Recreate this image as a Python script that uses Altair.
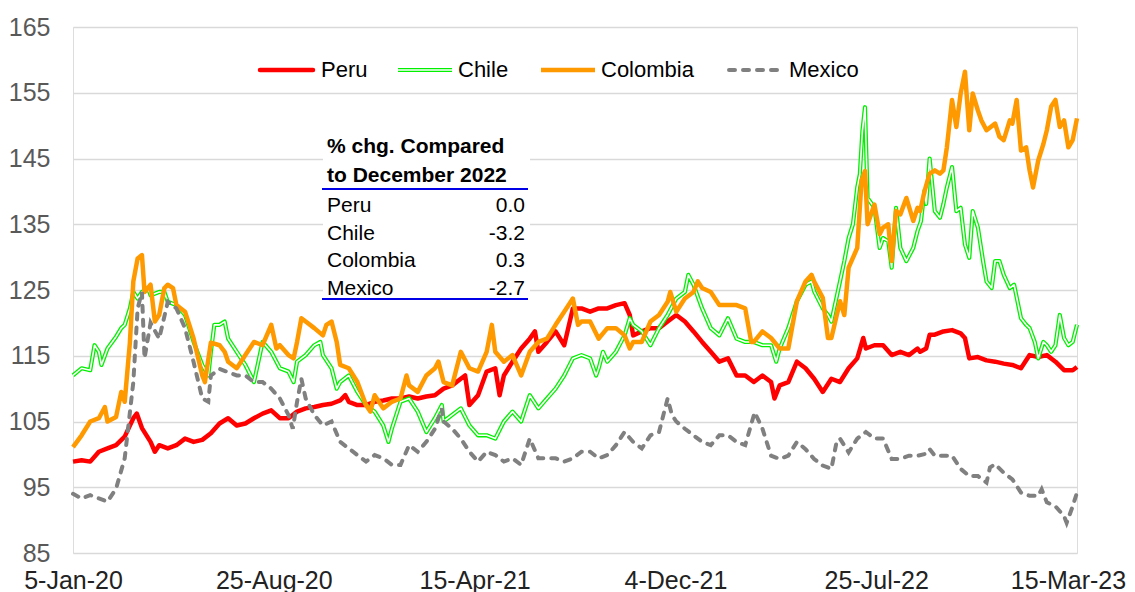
import altair as alt
import pandas as pd

START = "2020-01-05"

# ---- series: day offsets from 5-Jan-20 and index values ----
PERU_DAYS = [0,10,20,30,40,50,60,70,74,80,90,95,100,110,120,130,140,150,160,170,180,190,
             200,210,220,230,240,250,260,270,280,290,300,310,316,320,330,340,350,360,370,380,390,
             400,410,420,430,440,450,455,460,470,480,490,495,500,510,520,530,536,540,550,560,570,580,590,
             600,610,620,630,640,646,650,660,670,680,690,700,710,720,730,740,750,760,770,780,790,
             800,810,814,820,830,840,850,860,870,880,890,900,910,917,920,930,940,950,960,970,980,
             983,990,994,1000,1010,1020,1030,1035,1040,1050,1060,1070,1080,1090,1100,1110,1120,1130,1140,1150,1160,1165]
PERU_VALS = [98.9,99.1,98.9,100.4,100.9,101.4,102.7,105.5,106.2,104.0,101.9,100.4,101.4,100.9,101.4,102.4,101.9,102.2,103.2,104.7,105.5,104.4,
             104.7,105.5,106.2,106.7,105.5,105.5,106.5,107.0,107.2,107.5,107.7,108.2,109.0,108.0,107.5,107.5,108.0,108.2,108.5,108.5,108.8,
             108.5,108.8,109.0,110.0,110.5,111.5,112.0,107.5,109.0,112.6,113.1,109.0,112.0,114.1,116.1,117.6,118.7,115.6,117.1,118.7,116.6,122.2,122.2,
             121.7,122.2,122.2,122.7,123.0,121.2,118.1,118.7,119.2,119.2,120.2,121.2,120.2,118.7,117.1,115.6,114.1,114.6,112.0,112.0,111.0,
             112.0,111.0,108.5,110.5,111.0,114.1,113.1,111.5,109.5,111.5,111.0,113.1,114.6,117.7,116.1,116.6,116.6,115.1,115.6,115.1,116.1,
             115.6,116.1,118.2,118.2,118.7,118.9,118.4,117.7,114.6,114.8,114.3,114.1,113.8,113.6,113.1,115.1,114.8,115.1,114.1,112.8,112.8,113.3]

CHILE_DAYS = [0,10,20,25,30,33,40,50,56,60,66,70,75,80,87,90,100,106,110,120,130,140,150,157,160,164,170,176,180,190,
              200,210,220,230,240,250,256,260,270,280,287,290,300,306,310,320,330,340,350,360,366,370,380,390,
              400,410,420,428,430,440,450,460,470,480,490,500,510,520,530,540,550,560,570,580,590,
              600,607,610,615,620,630,640,646,650,660,670,680,690,700,710,714,720,730,740,750,760,770,780,790,
              800,810,816,820,830,840,850,857,860,870,876,880,890,895,900,905,910,913,916,919,922,930,936,940,946,950,955,960,967,975,980,
              984,988,990,994,1000,1006,1010,1014,1020,1025,1030,1035,1040,1044,1050,1056,1060,1066,1070,1075,1080,1087,1092,
              1100,1106,1110,1116,1120,1126,1130,1135,1140,1145,1150,1155,1160,1165]
CHILE_VALS = [112.0,113.1,112.8,116.6,115.6,113.6,116.1,117.9,119.2,119.7,122.2,124.7,123.7,124.7,125.3,124.2,124.7,124.7,123.2,122.7,121.2,117.1,113.6,112.0,115.6,119.7,119.7,120.2,117.6,115.6,
              113.6,111.0,117.1,115.6,113.1,112.6,111.0,114.1,115.1,116.6,117.1,115.1,113.1,110.0,111.0,112.0,109.5,107.5,106.5,104.4,101.9,103.9,108.0,108.5,
              106.5,103.4,105.5,107.5,105.0,106.0,107.0,104.4,102.9,102.9,102.4,105.0,106.5,105.0,109.0,107.0,108.5,110.0,112.0,114.6,115.1,
              114.6,112.0,113.1,115.6,114.1,115.6,118.1,120.7,119.7,118.7,116.6,119.2,121.2,123.7,124.7,127.3,125.8,122.2,119.2,118.1,120.7,117.6,117.1,117.1,
              116.6,116.6,114.1,116.1,119.2,123.3,125.8,126.3,124.8,122.2,121.2,120.2,126.3,129.4,132.9,135.0,140.6,142.6,149.2,152.8,139.0,137.5,131.4,132.9,132.4,128.4,137.5,131.4,129.4,131.4,134.0,
              135.5,140.1,138.1,145.0,137.0,136.0,138.1,140.6,143.7,137.0,137.5,131.9,129.9,137.0,134.5,129.4,126.3,125.3,129.4,129.4,127.3,125.3,125.8,
              120.7,119.7,119.2,117.1,114.6,117.1,116.6,115.6,116.6,121.2,117.7,116.6,117.1,119.7]

COLOMBIA_DAYS = [0,10,20,30,37,40,50,56,60,66,70,75,80,83,90,95,100,106,110,116,120,130,135,140,150,153,160,170,176,180,190,
                 200,210,220,230,236,240,250,256,260,265,270,280,290,294,300,306,310,320,330,340,345,350,360,370,380,387,390,
                 400,410,420,424,430,440,450,460,470,480,486,490,500,510,520,530,540,550,560,570,580,586,590,
                 600,610,620,630,640,646,650,660,670,680,690,693,700,710,720,725,730,740,750,760,770,780,787,790,
                 800,810,820,830,840,850,857,860,870,876,880,890,895,900,910,915,919,922,930,936,940,946,950,955,960,967,975,980,
                 983,988,994,1000,1006,1010,1014,1020,1025,1030,1035,1040,1044,1050,1054,1060,1070,1075,1080,1087,1090,1095,
                 1100,1106,1110,1114,1120,1126,1130,1135,1140,1145,1150,1155,1160,1165]
COLOMBIA_VALS = [101.1,102.9,105.0,105.5,107.2,105.0,105.7,109.5,108.0,117.0,126.3,129.8,130.3,124.7,125.8,120.2,121.2,125.3,125.8,125.3,122.7,121.7,119.7,117.6,112.0,111.0,117.0,116.6,115.6,114.1,113.1,
                 115.1,117.1,116.6,119.7,116.1,116.6,115.1,114.6,117.1,120.7,120.2,119.2,118.1,119.7,120.2,117.1,113.6,113.1,111.0,107.5,106.5,109.0,107.0,108.0,108.5,112.0,110.5,
                 109.5,112.0,113.1,114.1,111.0,110.5,115.6,113.1,112.6,115.6,119.7,115.6,114.1,115.1,112.0,115.6,117.1,117.6,119.7,121.7,123.7,119.7,120.2,
                 120.2,117.6,119.2,119.2,118.1,116.1,117.1,117.1,120.2,121.2,123.2,124.7,121.7,123.7,124.7,126.3,125.3,124.7,122.7,122.7,122.7,122.2,117.1,117.1,
                 118.7,117.7,116.1,116.1,123.3,126.3,127.3,126.3,123.8,117.7,117.7,123.3,121.2,128.4,131.4,141.6,143.1,135.0,138.0,133.5,134.5,135.0,129.4,137.0,136.5,139.0,135.5,137.5,
                 137.0,140.0,142.7,143.2,142.7,143.2,146.7,153.9,149.8,154.9,158.2,149.3,154.9,152.3,150.8,149.3,150.3,148.3,147.8,150.8,150.3,153.9,
                 146.2,146.7,143.2,140.6,144.7,147.2,149.3,152.9,153.9,149.8,150.8,146.7,147.8,151.1]

MEXICO_DAYS = [0,10,20,30,40,50,60,70,75,80,83,90,100,110,120,130,140,150,157,160,170,180,190,
               200,210,220,230,240,250,255,260,265,270,280,290,300,310,320,330,340,350,360,370,380,390,
               400,410,420,428,430,440,450,460,470,480,490,500,510,520,530,540,550,560,570,580,590,
               600,610,620,630,640,650,660,670,680,687,690,695,700,710,720,730,740,750,760,770,780,791,
               800,810,820,830,840,850,860,870,880,886,890,900,910,920,930,940,950,960,970,980,
               990,994,1000,1010,1020,1030,1040,1050,1060,1064,1070,1080,1090,1100,1110,1120,1124,1130,1140,1150,1153,1160,1165]
MEXICO_VALS = [94.0,93.3,93.8,93.3,92.8,94.8,99.4,111.0,122.2,124.7,114.6,120.0,117.6,123.2,122.2,119.2,114.0,108.5,108.0,112.0,113.0,112.5,112.0,
               112.0,111.0,111.0,110.0,108.5,106.0,103.9,108.0,111.5,108.5,106.0,104.4,105.0,101.9,100.9,99.9,98.9,99.9,99.4,98.4,98.4,101.4,
               100.4,101.9,103.9,107.0,105.0,103.9,102.4,100.4,98.9,100.4,99.9,98.9,99.4,98.4,102.4,99.4,99.4,99.4,98.9,99.4,100.4,
               100.4,99.4,99.9,101.4,103.4,101.9,100.9,102.9,103.4,107.0,108.5,106.0,105.0,103.9,102.9,101.9,101.4,102.9,102.9,101.9,101.4,106.4,
               103.9,99.8,99.3,99.8,101.9,100.8,99.3,98.3,97.8,101.9,102.4,100.3,102.4,103.4,102.4,102.4,99.3,99.3,99.8,99.8,
               100.1,100.8,99.8,99.8,99.8,97.8,96.7,96.7,95.7,98.0,98.5,97.2,96.2,94.2,93.7,93.7,94.7,92.7,92.1,90.6,89.6,92.1,94.2]

TICK_DATES = [(2020, 1, 5), (2020, 8, 25), (2021, 4, 15), (2021, 12, 4), (2022, 7, 25), (2023, 3, 15)]
Y_TICKS = [85, 95, 105, 115, 125, 135, 145, 155, 165]

TABLE_TITLE = ["% chg. Compared", "to December 2022"]
TABLE_COUNTRIES = ["Peru", "Chile", "Colombia", "Mexico"]
TABLE_VALUES = [0.0, -3.2, 0.3, -2.7]

W, H = 1004, 526
FONT = "Liberation Sans, Arial, sans-serif"


def frame(days, vals):
    return pd.DataFrame({
        "date": pd.Timestamp(START) + pd.to_timedelta(days, unit="D"),
        "v": vals,
    })


x_scale = alt.Scale(domain=[alt.DateTime(year=2020, month=1, date=5),
                            alt.DateTime(year=2023, month=3, date=15)], nice=False)
y_scale = alt.Scale(domain=[85, 165], nice=False, zero=False)

x_enc = alt.X("date:T", scale=x_scale, title=None,
              axis=alt.Axis(values=[alt.DateTime(year=a, month=b, date=c) for a, b, c in TICK_DATES],
                            format="%-d-%b-%y", grid=False, domain=False, ticks=False,
                            labelFontSize=25, labelFont=FONT, labelColor="#222222",
                            labelPadding=15, labelFlush=False, labelOverlap=False,
                            labelOffset={"condition": {"test": "datum.value >= datetime(2023, 0, 1)", "value": -9},
                                         "value": 0}))
y_enc = alt.Y("v:Q", scale=y_scale, title=None,
              axis=alt.Axis(values=Y_TICKS, grid=True, gridColor="#D9D9D9", gridWidth=1.5,
                            domain=False, ticks=False, labelFontSize=25, labelFont=FONT,
                            labelColor="#595959", labelPadding=23))

RED, GREEN, ORANGE, GRAY = "#FF0000", "#00F000", "#FF9900", "#808080"

peru = alt.Chart(frame(PERU_DAYS, PERU_VALS)).mark_line(color=RED, strokeWidth=4.5, strokeJoin="round").encode(x=x_enc, y=y_enc)
chile_o = alt.Chart(frame(CHILE_DAYS, CHILE_VALS)).mark_line(color=GREEN, strokeWidth=4.2, strokeJoin="round").encode(x=x_enc, y=y_enc)
chile_i = alt.Chart(frame(CHILE_DAYS, CHILE_VALS)).mark_line(color="white", strokeWidth=1.6, strokeJoin="round").encode(x=x_enc, y=y_enc)
colom = alt.Chart(frame(COLOMBIA_DAYS, COLOMBIA_VALS)).mark_line(color=ORANGE, strokeWidth=4.5, strokeJoin="round").encode(x=x_enc, y=y_enc)
mexico = alt.Chart(frame(MEXICO_DAYS, MEXICO_VALS)).mark_line(color=GRAY, strokeWidth=4, strokeDash=[6, 8], strokeCap="round").encode(x=x_enc, y=y_enc)

one = pd.DataFrame({"k": [0]})


def rule(x1, x2, y, **kw):
    return alt.Chart(one).mark_rule(**kw).encode(x=alt.value(x1), x2=alt.value(x2), y=alt.value(y))


def text(x, y, s, **kw):
    return alt.Chart(one).mark_text(font=FONT, baseline="middle", **kw).encode(
        x=alt.value(x), y=alt.value(y), text=alt.value(s))


# legend (top)
LY = 43
legend = [
    rule(187, 240, LY, color=RED, strokeWidth=4.5, strokeCap="round"),
    text(248, LY, "Peru", align="left", fontSize=22, color="black"),
    rule(325, 379, LY, color=GREEN, strokeWidth=4.2),
    rule(325, 379, LY, color="white", strokeWidth=1.6),
    text(385, LY, "Chile", align="left", fontSize=22, color="black"),
    rule(468, 522, LY, color=ORANGE, strokeWidth=4.5),
    text(528, LY, "Colombia", align="left", fontSize=22, color="black"),
    rule(656, 706, LY, color=GRAY, strokeWidth=4, strokeDash=[6, 8], strokeCap="round"),
    text(716, LY, "Mexico", align="left", fontSize=22, color="black"),
]

# inset table
box = alt.Chart(one).mark_rect(color="white").encode(
    x=alt.value(250), x2=alt.value(457), y=alt.value(101), y2=alt.value(274))
table = [box,
         text(254, 120, TABLE_TITLE[0], align="left", fontSize=21, fontWeight="bold", color="black"),
         text(254, 149, TABLE_TITLE[1], align="left", fontSize=21, fontWeight="bold", color="black"),
         rule(249, 455, 162, color="#0000E6", strokeWidth=2.2),
         rule(249, 455, 272, color="#0000E6", strokeWidth=2.2)]
for i, (c, v) in enumerate(zip(TABLE_COUNTRIES, TABLE_VALUES)):
    yy = 179 + i * 27.7
    table.append(text(254, yy, c, align="left", fontSize=21, color="black"))
    table.append(text(452, yy, f"{v:.1f}", align="right", fontSize=21, color="black"))

chart = alt.layer(peru, *table, chile_o, chile_i, colom, mexico, *legend).properties(
    width=W, height=H,
    autosize=alt.AutoSizeParams(type="none"),
    padding={"left": 65, "top": 19, "right": 50, "bottom": 40},
).configure_view(stroke=None).configure(background="white")

chart.save("out.html", embed_options={"renderer": "svg", "actions": False})
